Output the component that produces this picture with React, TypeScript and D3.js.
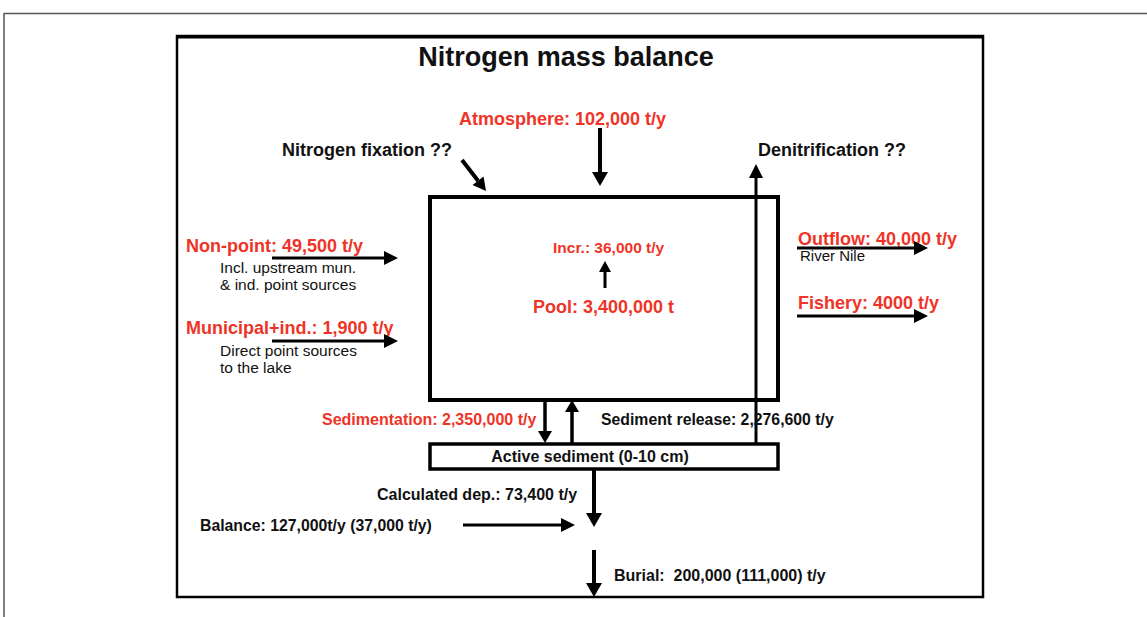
import React from "react";
import * as d3 from "d3";

// labels
const title = "Nitrogen mass balance";

const inputNames = ["Atmosphere", "Non-point", "Municipal+ind."];
const inputValues = [102000, 49500, 1900];
const inputNotes = [[], ["Incl. upstream mun.", "& ind. point sources"], ["Direct point sources", "to the lake"]];

const outputNames = ["Outflow", "Fishery"];
const outputValues = ["40,000", "4000"];
const outputNotes = [["River Nile"], []];

const unknownFlows = ["Nitrogen fixation ??", "Denitrification ??"];

const poolLabels = ["Incr.: 36,000 t/y", "Pool: 3,400,000 t"];
const sedimentLabels = [
  "Sedimentation: 2,350,000 t/y",
  "Sediment release: 2,276,600 t/y",
  "Active sediment (0-10 cm)",
  "Calculated dep.: 73,400 t/y",
  "Balance: 127,000t/y (37,000 t/y)",
  "Burial:  200,000 (111,000) t/y",
];

const RED = "#ef3427";
const FONT = "'Liberation Sans', Arial, Helvetica, sans-serif";
const fmt = d3.format(",");

// line with a filled triangular head at (x2, y2)
function arrowPath(x1: number, y1: number, x2: number, y2: number, len = 14, half = 7) {
  const a = Math.atan2(y2 - y1, x2 - x1);
  const bx = x2 - len * Math.cos(a);
  const by = y2 - len * Math.sin(a);
  const px = -Math.sin(a) * half;
  const py = Math.cos(a) * half;
  const line = d3.path();
  line.moveTo(x1, y1);
  line.lineTo(bx, by);
  const head = d3.path();
  head.moveTo(x2, y2);
  head.lineTo(bx + px, by + py);
  head.lineTo(bx - px, by - py);
  head.closePath();
  return { line: line.toString(), head: head.toString() };
}

const Arrow = ({ x1, y1, x2, y2, w = 3, len = 14, half = 7 }: any) => {
  const p = arrowPath(x1, y1, x2, y2, len, half);
  return (
    <g>
      <path d={p.line} stroke="#000" strokeWidth={w} fill="none" />
      <path d={p.head} fill="#000" />
    </g>
  );
};

export default function App() {
  const W = 1147;
  const H = 617;
  const bold = { fontFamily: FONT, fontWeight: 700 } as const;
  const plain = { fontFamily: FONT, fontWeight: 400 } as const;

  const inputText = inputNames.map((n, i) => `${n}: ${fmt(inputValues[i])} t/y`);
  const outputText = outputNames.map((n, i) => `${n}: ${outputValues[i]} t/y`);

  return (
    <svg width={W} height={H} style={{ position: "absolute", left: 0, top: 0, background: "#fff" }}>
      {/* page frame */}
      <line x1={4} y1={13.5} x2={W} y2={13.5} stroke="#555" strokeWidth={1.5} />
      <line x1={4} y1={13} x2={4} y2={H} stroke="#555" strokeWidth={1.5} />

      {/* figure frame */}
      <rect x={177} y={36} width={806} height={561} fill="none" stroke="#000" strokeWidth={2.5} />
      <line x1={177} y1={37} x2={983} y2={37} stroke="#000" strokeWidth={3} />

      <text x={566} y={66} textAnchor="middle" fontSize={27} style={bold} fill="#111">
        {title}
      </text>

      {/* atmosphere */}
      <text x={459} y={125} fontSize={18} style={bold} fill={RED}>{inputText[0]}</text>
      <Arrow x1={600} y1={128} x2={600} y2={186} w={4} len={14} half={8} />

      {/* nitrogen fixation */}
      <text x={282} y={156} fontSize={18} style={bold} fill="#111">{unknownFlows[0]}</text>
      <Arrow x1={462} y1={160} x2={486} y2={191} w={4} len={13} half={7} />

      {/* denitrification */}
      <text x={758} y={156} fontSize={18} style={bold} fill="#111">{unknownFlows[1]}</text>
      <Arrow x1={756} y1={444} x2={756} y2={164} w={3} len={14} half={7} />

      {/* lake box */}
      <rect x={430} y={197} width={348} height={203} fill="none" stroke="#000" strokeWidth={4} />
      <text x={553} y={253} fontSize={15.5} style={bold} fill={RED}>{poolLabels[0]}</text>
      <Arrow x1={605} y1={288} x2={605} y2={261} w={3} len={11} half={6} />
      <text x={533} y={313} fontSize={18} style={bold} fill={RED}>{poolLabels[1]}</text>

      {/* non-point */}
      <text x={186} y={252} fontSize={18} style={bold} fill={RED}>{inputText[1]}</text>
      <Arrow x1={272} y1={258} x2={398} y2={258} w={3} len={14} half={7} />
      {inputNotes[1].map((t, i) => (
        <text key={t} x={220} y={273 + i * 16.5} fontSize={15.5} style={plain} fill="#111">{t}</text>
      ))}

      {/* municipal */}
      <text x={186} y={334} fontSize={18} style={bold} fill={RED}>{inputText[2]}</text>
      <Arrow x1={272} y1={341} x2={398} y2={341} w={3} len={14} half={7} />
      {inputNotes[2].map((t, i) => (
        <text key={t} x={220} y={356 + i * 16.5} fontSize={15.5} style={plain} fill="#111">{t}</text>
      ))}

      {/* outflow */}
      <text x={798} y={245} fontSize={18} style={bold} fill={RED}>{outputText[0]}</text>
      <Arrow x1={797} y1={248} x2={928} y2={248} w={3} len={14} half={7} />
      {outputNotes[0].map((t) => (
        <text key={t} x={800} y={261} fontSize={15} style={plain} fill="#111">{t}</text>
      ))}

      {/* fishery */}
      <text x={798} y={309} fontSize={18} style={bold} fill={RED}>{outputText[1]}</text>
      <Arrow x1={797} y1={316} x2={928} y2={316} w={3} len={14} half={7} />

      {/* sediment exchange */}
      <Arrow x1={545} y1={400} x2={545} y2={443} w={3.5} len={12} half={7} />
      <Arrow x1={572} y1={444} x2={572} y2={400} w={3.5} len={12} half={7} />
      <text x={322} y={425} fontSize={16} style={bold} fill={RED}>{sedimentLabels[0]}</text>
      <text x={601} y={425} fontSize={15.8} style={bold} fill="#111">{sedimentLabels[1]}</text>

      {/* active sediment */}
      <rect x={430} y={444} width={348} height={25} fill="#fff" stroke="#000" strokeWidth={3.5} />
      <text x={590} y={462} textAnchor="middle" fontSize={16} style={bold} fill="#111">{sedimentLabels[2]}</text>

      <Arrow x1={594} y1={469} x2={594} y2={527} w={4} len={14} half={8} />
      <text x={377} y={500} fontSize={16} style={bold} fill="#111">{sedimentLabels[3]}</text>

      <text x={200} y={531} fontSize={15.8} style={bold} fill="#111">{sedimentLabels[4]}</text>
      <Arrow x1={463} y1={525} x2={575} y2={525} w={3} len={14} half={7} />

      <Arrow x1={594} y1={550} x2={594} y2={597} w={4} len={14} half={8} />
      <text x={614} y={581} fontSize={16} style={{ ...bold, whiteSpace: "pre" }} fill="#111">{sedimentLabels[5]}</text>
    </svg>
  );
}
